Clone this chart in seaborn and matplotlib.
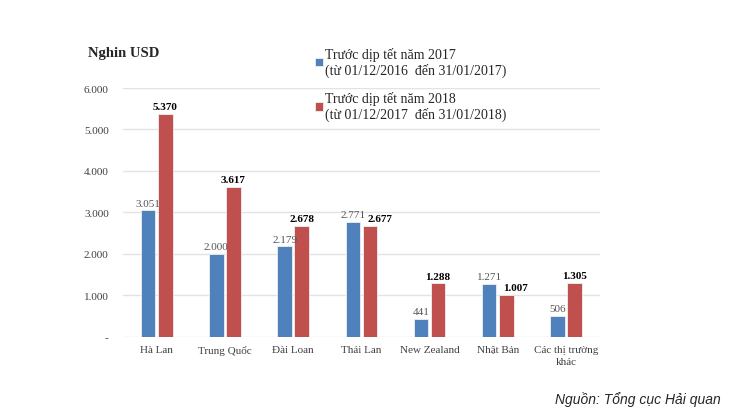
import matplotlib
matplotlib.use("Agg")
import matplotlib.pyplot as plt
import pandas as pd
import seaborn as sns

# -----------------------
# data
# -----------------------
markets = ["Hà Lan", "Trung Quốc", "Đài Loan", "Thái Lan", "New Zealand",
           "Nhật Bản", "Các thị trường\nkhác"]
vals_2017 = [3051, 2000, 2179, 2771, 441, 1271, 506]
vals_2018 = [5370, 3617, 2678, 2677, 1288, 1007, 1305]
series = ["Trước dịp tết năm 2017\n(từ 01/12/2016  đến 31/01/2017)",
          "Trước dịp tết năm 2018\n(từ 01/12/2017  đến 31/01/2018)"]
yticks = [0, 1000, 2000, 3000, 4000, 5000, 6000]

df = pd.DataFrame({
    "market": markets * 2,
    "value": vals_2017 + vals_2018,
    "series": [series[0]] * len(markets) + [series[1]] * len(markets),
})


def vn(v):
    # thousands separator with a dot
    return f"{v:,.0f}".replace(",", ".")


sns.set_style("white")
plt.rcParams["font.family"] = ["Liberation Serif", "DejaVu Serif"]

fig = plt.figure(figsize=(7.3, 4.14), dpi=100)
ax = fig.add_axes([0.168, 0.184, 0.654, 0.601])

sns.barplot(data=df, x="market", y="value", hue="series",
            palette=["#4F81BD", "#C0504D"], saturation=1, width=0.5, gap=0.15,
            edgecolor="#F0F0F0", linewidth=0.6, legend=True, ax=ax)

ax.set_ylim(0, 6000)
ax.set_xlim(-0.5, len(markets) - 0.5)
ax.set_yticks(yticks)
ax.set_yticklabels(["-"] + [vn(t) for t in yticks[1:]], fontsize=8, color="#404040")
ax.tick_params(axis="x", labelsize=8, colors="#404040", length=0, pad=6)
ax.tick_params(axis="y", length=0, pad=10)
for t in ax.get_xticklabels():
    t.set_linespacing(1.4)
ax.grid(axis="y", color="#E3E3E3", linewidth=1)
ax.set_axisbelow(True)
for s in ax.spines.values():
    s.set_visible(False)
ax.set_xlabel("")
ax.set_ylabel("")

# data labels
ax.bar_label(ax.containers[0], labels=[vn(v) for v in vals_2017],
             fontsize=8, color="#555555", padding=2)
red_labels = ax.bar_label(ax.containers[1], labels=[vn(v) for v in vals_2018],
                          fontsize=8, color="black", fontweight="bold", padding=2)
# nudge the labels that would collide (Thái Lan, Nhật Bản)
for i in (3, 5):
    red_labels[i].xyann = (7, 2)

# legend at the top
handles, labels = ax.get_legend_handles_labels()
ax.get_legend().remove()
fig.legend(handles, labels, loc="upper left", bbox_to_anchor=(0.414, 0.915),
           frameon=False, fontsize=10, handlelength=0.6, handleheight=0.6,
           handletextpad=0.15, labelspacing=1.0, alignment="left")

fig.text(0.121, 0.862, "Nghin USD", fontsize=10.5, fontweight="bold")
fig.text(0.987, 0.025, "Nguồn: Tổng cục Hải quan", fontsize=10,
         style="italic", ha="right", family="Liberation Sans")

fig.savefig("out.png", dpi=100)
